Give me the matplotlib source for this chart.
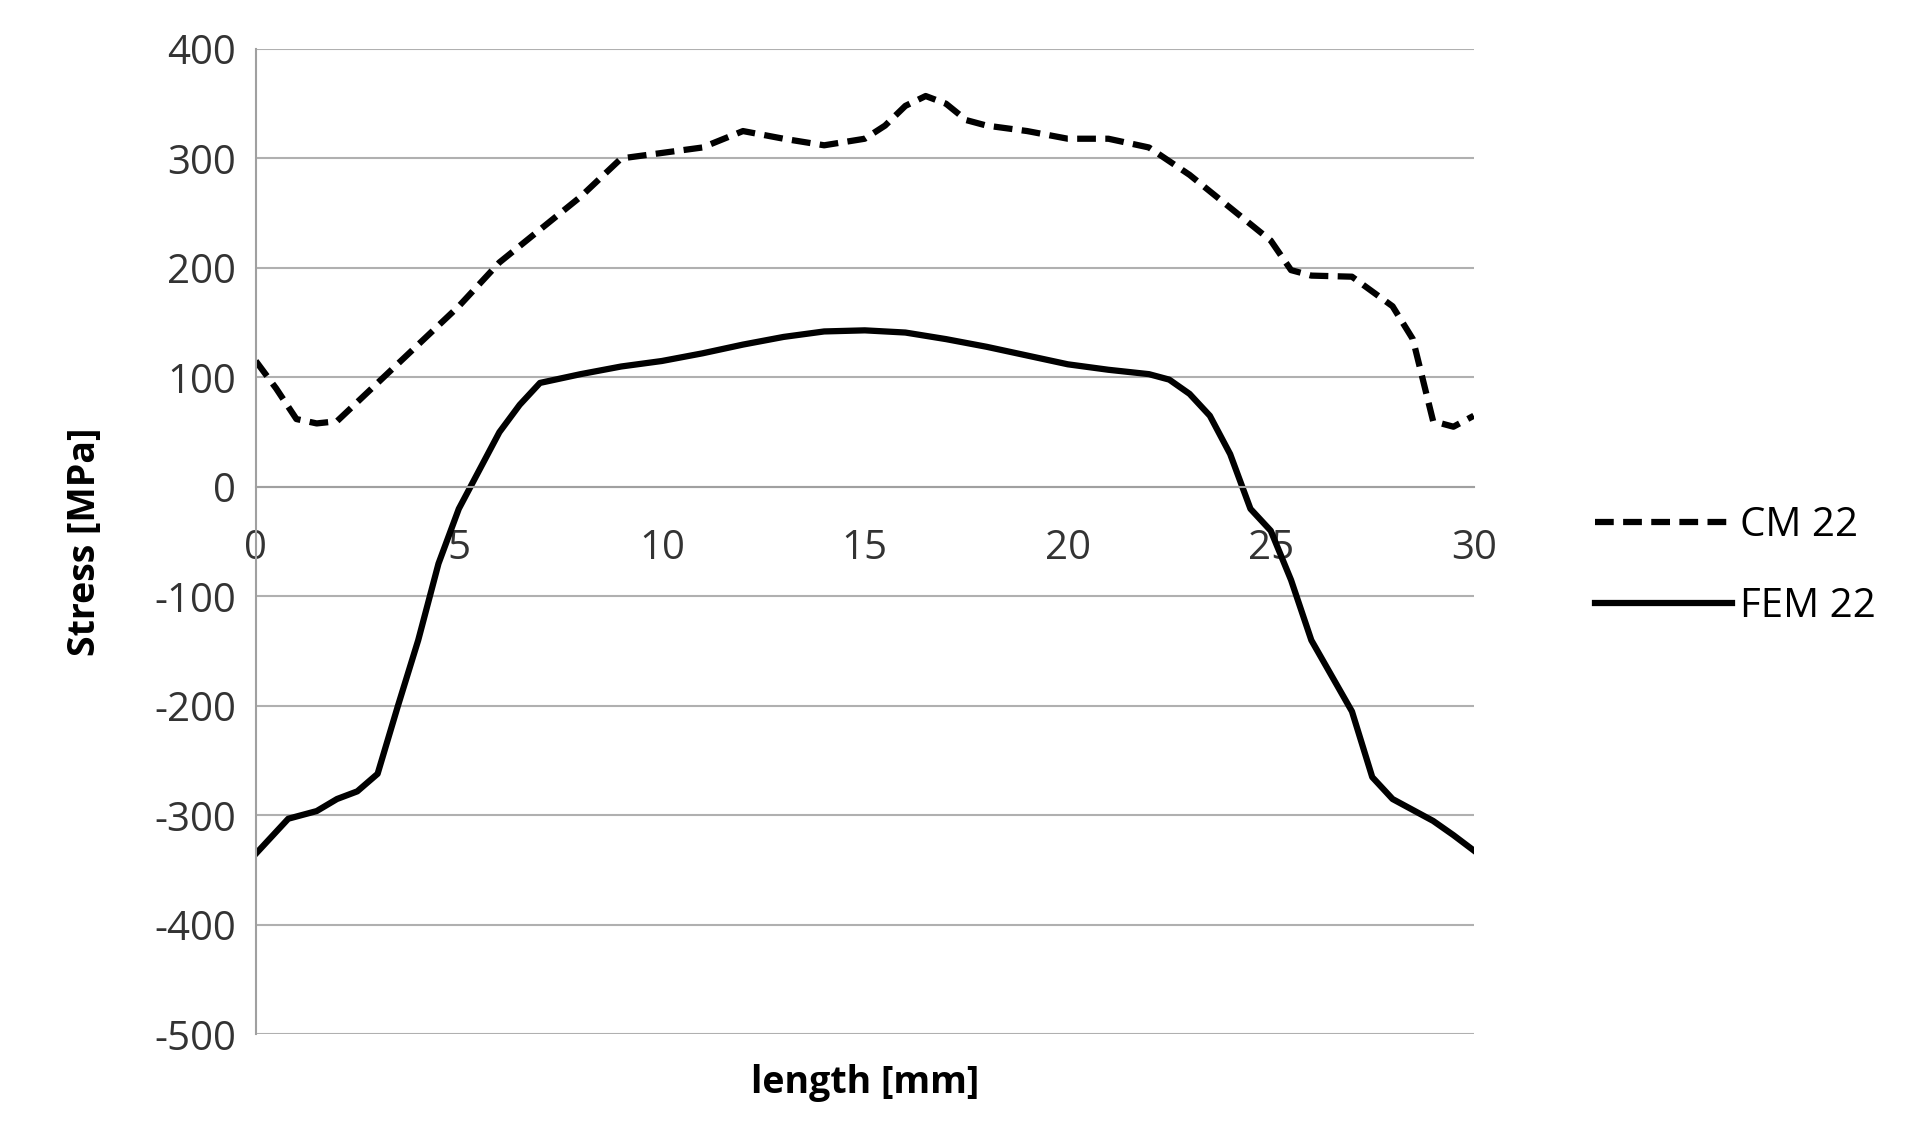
import matplotlib
matplotlib.use("Agg")
import matplotlib.pyplot as plt

cm_x = [0,0.5,1,1.5,2,3,4,5,6,7,8,9,10,11,12,13,14,15,15.5,16,16.5,17,17.5,18,19,20,21,22,23,24,25,25.5,26,27,28,28.5,29,29.5,30]
cm_y = [115,90,62,58,60,95,130,165,205,235,265,300,305,310,325,318,312,318,330,348,357,350,335,330,325,318,318,310,285,255,225,198,193,192,165,135,60,55,65]
fem_x = [0,0.5,0.8,1.5,2,2.5,3,3.5,4,4.5,5,5.5,6,6.5,7,8,9,10,11,12,13,14,15,16,17,18,19,20,21,22,22.5,23,23.5,24,24.5,25,25.5,26,27,27.5,28,29,29.5,30]
fem_y = [-335,-315,-303,-296,-285,-278,-262,-200,-140,-70,-20,15,50,75,95,103,110,115,122,130,137,142,143,141,135,128,120,112,107,103,98,85,65,30,-20,-40,-85,-140,-205,-265,-285,-305,-318,-332]
xticks = [0,5,10,15,20,25,30]
yticks = [400,300,200,100,0,-100,-200,-300,-400,-500]

plt.rcParams['font.family'] = ['Open Sans', 'DejaVu Sans']
plt.rcParams['axes.unicode_minus'] = False
fig = plt.figure(figsize=(19.09, 11.38), dpi=100)
ax = fig.add_axes([0.134, 0.091, 0.638, 0.866])
ax.plot(cm_x, cm_y, color='black', lw=4.5, ls=(0, (3, 1.5)), label='CM 22')
ax.plot(fem_x, fem_y, color='black', lw=4.5, label='FEM 22')
ax.set_xlim(0, 30)
ax.set_ylim(-500, 400)
ax.set_yticks(yticks)
ax.set_xticks(xticks)
ax.grid(axis='y', color='#b0b0b0', lw=1.5)
ax.set_axisbelow(True)
for s in ['top', 'right']:
    ax.spines[s].set_visible(False)
ax.spines['bottom'].set_position(('data', 0))
ax.spines['bottom'].set_color('#a0a0a0')
ax.spines['left'].set_color('#a0a0a0')
ax.spines['bottom'].set_linewidth(1.5)
ax.spines['left'].set_linewidth(1.5)
ax.tick_params(length=0, labelsize=29, colors='#333333', pad=14)
ax.tick_params(axis='x', pad=30)
ax.set_ylabel('Stress [MPa]', fontsize=27, fontweight='bold')
ax.set_xlabel('length [mm]', fontsize=27, fontweight='bold')
ax.yaxis.set_label_coords(-0.125, 0.5)
ax.xaxis.set_label_coords(0.5, -0.03)
ax.legend(loc='center left', bbox_to_anchor=(1.07, 0.475), frameon=False, fontsize=29,
          handlelength=3.4, labelspacing=1.0, handletextpad=0.2)
fig.savefig('out.png', dpi=100)
